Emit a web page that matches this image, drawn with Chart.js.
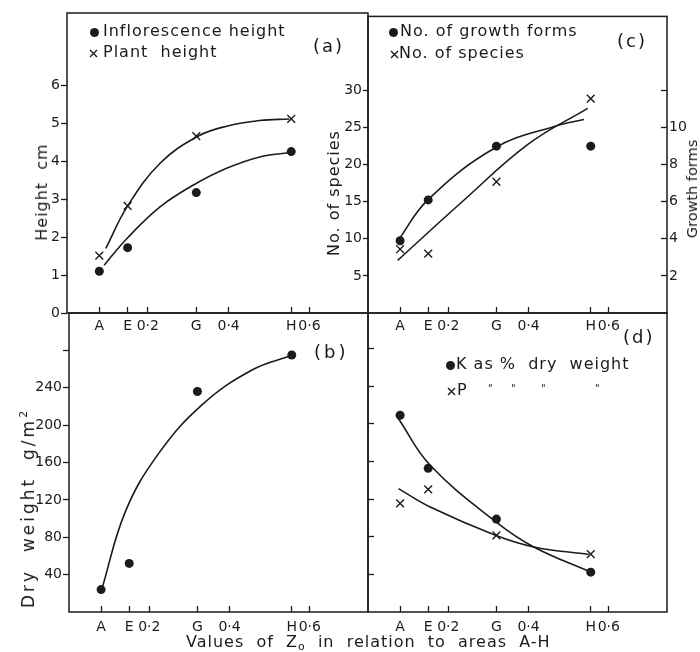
<!DOCTYPE html>
<html>
<head>
<meta charset="utf-8">
<script src="https://cdn.jsdelivr.net/npm/chart.js@4.4.1/dist/chart.umd.min.js"></script>
<style>
  html, body { margin: 0; padding: 0; background: #fff; }
  #fig { position: relative; width: 700px; height: 652px; overflow: hidden; font-family: "DejaVu Sans", sans-serif; color: #1b1b1b; }
  #fig canvas { position: absolute; left: 0; top: 0; }
  .t { position: absolute; white-space: pre; font-size: 16px; line-height: 16px; letter-spacing: 1px; }
  .pl { position: absolute; white-space: pre; font-size: 18px; line-height: 18px; letter-spacing: 2px; }
  .rot { position: absolute; white-space: pre; font-size: 16px; line-height: 16px; letter-spacing: 1px; transform: translate(-50%, -50%) rotate(-90deg); }
  .dot { position: absolute; width: 9px; height: 9px; border-radius: 50%; background: #1b1b1b; }
  .cx { position: absolute; }
  .ditto { position: absolute; font-size: 10px; line-height: 10px; }
</style>
</head>
<body>
<div id="fig">
  <canvas id="panelA" width="700" height="652"></canvas>
  <canvas id="panelB" width="700" height="652"></canvas>
  <canvas id="panelC" width="700" height="652"></canvas>
  <canvas id="panelD" width="700" height="652"></canvas>

  <!-- (a) -->
  <div class="dot" style="left:89.5px;top:28px"></div>
  <div class="t" style="left:103px;top:22.5px">Inflorescence height</div>
  <svg class="cx" style="left:88.5px;top:48.5px" width="9" height="9"><path d="M1 1L8 8M8 1L1 8" stroke="#1b1b1b" stroke-width="1.4"/></svg>
  <div class="t" style="left:103px;top:43.5px">Plant  height</div>
  <div class="pl" style="left:313px;top:37px">(a)</div>
  <div class="rot" style="left:42px;top:192px">Height  cm</div>

  <!-- (c) -->
  <div class="dot" style="left:388.5px;top:28px"></div>
  <div class="t" style="left:400px;top:22.5px">No. of growth forms</div>
  <svg class="cx" style="left:389.5px;top:49.5px" width="9" height="9"><path d="M1 1L8 8M8 1L1 8" stroke="#1b1b1b" stroke-width="1.4"/></svg>
  <div class="t" style="left:399px;top:44.5px">No. of species</div>
  <div class="pl" style="left:617px;top:32px">(c)</div>
  <div class="rot" style="left:334px;top:193px">No. of species</div>
  <div class="rot" style="left:692px;top:189px;font-size:14.5px;letter-spacing:0">Growth forms</div>

  <!-- (b) -->
  <div class="pl" style="left:314px;top:343px;letter-spacing:3px">(b)</div>
  <div class="rot" style="left:26px;top:508px;font-size:17px;letter-spacing:3px">Dry  weight  g/m<sup style="font-size:11px;vertical-align:7px">2</sup></div>

  <!-- (d) -->
  <div class="pl" style="left:623px;top:328px">(d)</div>
  <div class="dot" style="left:446px;top:360.5px"></div>
  <div class="t" style="left:456px;top:355.5px">K as %  dry  weight</div>
  <svg class="cx" style="left:447px;top:387px" width="9" height="9"><path d="M1 1L8 8M8 1L1 8" stroke="#1b1b1b" stroke-width="1.4"/></svg>
  <div class="t" style="left:457px;top:381.5px">P</div>
  <div class="ditto" style="left:488px;top:384px">"</div>
  <div class="ditto" style="left:511px;top:384px">"</div>
  <div class="ditto" style="left:541px;top:384px">"</div>
  <div class="ditto" style="left:595px;top:384px">"</div>

  <div class="t" style="left:186px;top:634px">Values  of  Z<sub style="font-size:11px;vertical-align:-3px">o</sub>  in  relation  to  areas  A-H</div>
</div>

<script>
const INK = "#1b1b1b";

// sampling areas and their Zo values (x axis)
const areas = ["A", "E", "G", "H"];
const zoValues = [0.08, 0.15, 0.32, 0.555];
const zoTicks = [0.2, 0.4, 0.6];
const zoTickLabels = ["0·2", "0·4", "0·6"];

// (a) heights, cm
const inflorescenceHeight = [1.1, 1.72, 3.17, 4.25];
const plantHeight = [1.51, 2.82, 4.66, 5.11];
const inflorescenceCurveX = [0.092, 0.149, 0.231, 0.313, 0.395, 0.477, 0.55];
const inflorescenceCurveY = [1.26, 1.97, 2.8, 3.37, 3.81, 4.11, 4.22];
const plantCurveX = [0.096, 0.149, 0.231, 0.325, 0.395, 0.477, 0.55];
const plantCurveY = [1.7, 2.8, 3.95, 4.66, 4.92, 5.07, 5.11];
const heightTicks = [0, 1, 2, 3, 4, 5, 6];

// (b) dry weight, g/m2
const dryWeight = [24, 52, 236, 275];
const dryCurveX = [0.0815, 0.141, 0.224, 0.332, 0.456, 0.558];
const dryCurveY = [24, 108, 170, 222, 259, 275];
const dryTicks = [40, 80, 120, 160, 200, 240, 280];

// (c) species and growth forms
const growthForms = [3.9, 6.1, 9.0, 9.0];
const speciesCount = [8.6, 8.0, 17.7, 28.9];
const growthCurveX = [0.074, 0.149, 0.316, 0.466, 0.538];
const growthCurveY = [3.88, 6.1, 8.9, 10.08, 10.44];
const speciesCurveX = [0.074, 0.2325, 0.4, 0.5475];
const speciesCurveY = [7.1, 14.9, 22.8, 27.6];
const speciesTicks = [5, 10, 15, 20, 25, 30];
const growthTicks = [2, 4, 6, 8, 10, 12];

// (d) K and P as % dry weight (axis unlabelled)
const kPercent = [5.23, 3.82, 2.47, 1.06];
const pPercent = [2.89, 3.26, 2.04, 1.54];
const kCurveX = [0.076, 0.155, 0.322, 0.413, 0.553];
const kCurveY = [5.14, 3.9, 2.37, 1.73, 1.07];
const pCurveX = [0.076, 0.155, 0.3175, 0.413, 0.55];
const pCurveY = [3.28, 2.79, 2.04, 1.73, 1.53];
const dTicks = [1, 2, 3, 4, 5, 6, 7];

Chart.defaults.font.family = "'DejaVu Sans', sans-serif";
Chart.defaults.font.size = 14;
Chart.defaults.color = INK;

// merged tick list for the Zo axis: area letters plus 0·2 / 0·4 / 0·6
const xTickValues = [];
const xTickLabels = [];
areas.map((a, i) => [zoValues[i], a])
  .concat(zoTicks.map((v, i) => [v, zoTickLabels[i]]))
  .sort((p, q) => p[0] - q[0])
  .forEach(([v, t]) => { xTickValues.push(v); xTickLabels.push(t); });

const pts = (xs, ys) => xs.map((x, i) => ({ x, y: ys[i] }));

const framePlugin = {
  id: "frame",
  beforeDatasetsDraw(chart) {
    const { ctx, chartArea: a } = chart;
    ctx.save();
    ctx.strokeStyle = INK;
    ctx.lineWidth = 1.5;
    ctx.strokeRect(a.left, a.top, a.right - a.left, a.bottom - a.top);
    ctx.restore();
  }
};

function zoAxis(height, pad) {
  return {
    type: "linear", position: "bottom", min: 0, max: 0.745,
    afterBuildTicks: s => { s.ticks = xTickValues.map(v => ({ value: v })); },
    afterFit: s => { s.height = height; },
    grid: { drawOnChartArea: false, tickLength: -6, tickWidth: 1.3, tickColor: INK },
    border: { display: false },
    ticks: { autoSkip: false, maxRotation: 0, padding: pad, callback: (v, i) => xTickLabels[i] }
  };
}

function yAxis(o) {
  const hide = o.hide || [];
  return {
    type: "linear", position: o.position || "left", min: o.min, max: o.max,
    afterBuildTicks: s => { s.ticks = o.ticks.map(v => ({ value: v })); },
    afterFit: s => { s.width = o.width; },
    grid: { drawOnChartArea: false, tickLength: o.tick, tickWidth: 1.3, tickColor: INK },
    border: { display: false },
    ticks: { display: o.show !== false, padding: o.pad, callback: v => hide.includes(v) ? "" : String(v) }
  };
}

const dots = (ys, axis) => ({
  data: pts(zoValues, ys), yAxisID: axis, showLine: false,
  pointStyle: "circle", pointRadius: 4.5, backgroundColor: INK, borderColor: INK, borderWidth: 0
});
const crosses = (ys, axis) => ({
  data: pts(zoValues, ys), yAxisID: axis, showLine: false,
  pointStyle: "crossRot", pointRadius: 5.5, borderColor: INK, borderWidth: 1.4
});
const curve = (xs, ys, axis) => ({
  data: pts(xs, ys), yAxisID: axis, showLine: true, pointRadius: 0,
  borderColor: INK, borderWidth: 1.6, tension: 0.4, fill: false
});

function drawPanel(id, padding, scales, datasets) {
  return new Chart(document.getElementById(id), {
    type: "scatter",
    data: { datasets },
    options: {
      responsive: false, animation: false, events: [],
      layout: { padding },
      plugins: { legend: { display: false }, tooltip: { enabled: false } },
      scales
    },
    plugins: [framePlugin]
  });
}

// (a) top left
drawPanel("panelA", { left: 37, top: 13, right: 332, bottom: 311 }, {
  x: zoAxis(28, 11),
  y: yAxis({ min: 0, max: 7.9, ticks: heightTicks, width: 30, tick: 6, pad: 1 })
}, [
  dots(inflorescenceHeight, "y"),
  crosses(plantHeight, "y"),
  curve(inflorescenceCurveX, inflorescenceCurveY, "y"),
  curve(plantCurveX, plantCurveY, "y")
]);

// (b) bottom left
drawPanel("panelB", { left: 31, top: 313, right: 332, bottom: 10 }, {
  x: zoAxis(30, 13),
  y: yAxis({ min: 0, max: 320, ticks: dryTicks, width: 38, tick: 6, pad: 1, hide: [280] })
}, [
  dots(dryWeight, "y"),
  curve(dryCurveX, dryCurveY, "y")
]);

// (c) top right
drawPanel("panelC", { left: 334, top: 12, right: 9, bottom: 311 }, {
  x: zoAxis(28, 11),
  y: yAxis({ min: 0, max: 40, ticks: speciesTicks, width: 34, tick: 5, pad: 1 }),
  y2: yAxis({ position: "right", min: 0, max: 16, ticks: growthTicks, width: 24, tick: -6, pad: 8, hide: [12] })
}, [
  dots(growthForms, "y2"),
  crosses(speciesCount, "y"),
  curve(growthCurveX, growthCurveY, "y2"),
  curve(speciesCurveX, speciesCurveY, "y")
]);

// (d) bottom right
drawPanel("panelD", { left: 358, top: 313, right: 33, bottom: 10 }, {
  x: zoAxis(30, 13),
  y: yAxis({ min: 0, max: 7.95, ticks: dTicks, width: 10, tick: -6, pad: 0, show: false })
}, [
  dots(kPercent, "y"),
  crosses(pPercent, "y"),
  curve(kCurveX, kCurveY, "y"),
  curve(pCurveX, pCurveY, "y")
]);
</script>
</body>
</html>
